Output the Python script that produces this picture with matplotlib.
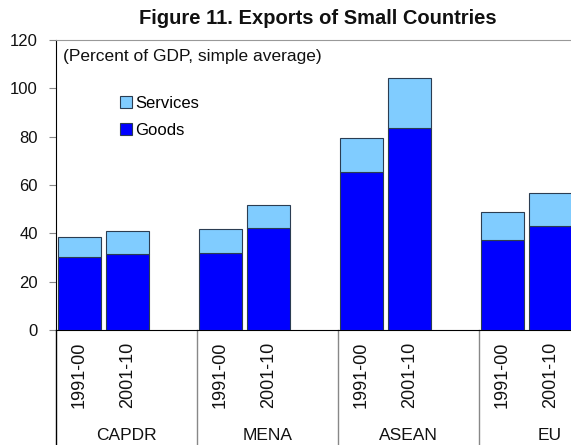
import matplotlib
matplotlib.use("Agg")
import matplotlib.pyplot as plt
from matplotlib.patches import Patch
from matplotlib.transforms import blended_transform_factory

plt.rcParams['font.family'] = ['Liberation Sans', 'DejaVu Sans']

regions = ["CAPDR", "MENA", "ASEAN", "EU"]
periods = ["1991-00", "2001-10"]
goods = [30.3, 31.4, 31.9, 42.2, 65.5, 83.6, 37.3, 43.0]
total = [38.4, 41.1, 41.9, 51.6, 79.6, 104.1, 48.8, 56.7]
services = [t - g for t, g in zip(total, goods)]

W, H = 571, 445
fig = plt.figure(figsize=(W / 100, H / 100), dpi=100)
left, right, top, bottom = 56, 620, 40, 330
ax = fig.add_axes([left / W, (H - bottom) / H, (right - left) / W, (bottom - top) / H])

xs = []
for gi in range(len(regions)):
    for pi in range(len(periods)):
        xs.append(gi * 3 + 0.5 + pi * 1.02)

edge = "#2b3d52"
ax.bar(xs, goods, width=0.93, color="#0000FF", edgecolor=edge, linewidth=0.8, zorder=3)
ax.bar(xs, services, bottom=goods, width=0.93, color="#80CCFF", edgecolor=edge,
       linewidth=0.8, zorder=3)

ax.set_xlim(0, 12)
ax.set_ylim(0, 120)
ax.set_yticks(range(0, 121, 20))
ax.tick_params(axis='y', length=5, color="#888888", labelsize=12, pad=8)
ax.set_xticks([])
for lab in ax.get_yticklabels():
    lab.set_color("#111111")

ax.spines['left'].set_color("black")
ax.spines['bottom'].set_color("black")
ax.spines['top'].set_color("#999999")
ax.spines['right'].set_visible(False)

# period labels beneath each bar
span = bottom - top
trans = blended_transform_factory(ax.transData, ax.transAxes)
for i, x in enumerate(xs):
    ax.text(x, -12 / span, periods[i % 2], rotation=90, ha='center', va='top',
            fontsize=13, transform=trans, color="#111111")

# region names and group separators
for gi, name in enumerate(regions):
    ax.text(gi * 3 + 1.5, -(435 - bottom) / span, name, ha='center', va='center',
            fontsize=12.5, transform=trans, color="#111111")
ax.plot([0, 0], [0, -(H - bottom) / span], color="black", lw=1.0,
        transform=trans, clip_on=False)
for gi in range(1, 4):
    ax.plot([gi * 3, gi * 3], [0, -(H - bottom) / span], color="#888888", lw=1.0,
            transform=trans, clip_on=False)

ax.text(63 / W, (H - 57) / H, "(Percent of GDP, simple average)", transform=fig.transFigure,
        ha='left', va='center', fontsize=12.5, color="#111111")

fig.text(318 / W, (H - 18) / H, "Figure 11. Exports of Small Countries",
         ha='center', va='center', fontsize=14.5, fontweight='bold', color="#111111")

handles = [Patch(facecolor="#80CCFF", edgecolor=edge, linewidth=0.8, label="Services"),
           Patch(facecolor="#0000FF", edgecolor=edge, linewidth=0.8, label="Goods")]
ax.legend(handles=handles, loc='upper left', bbox_to_anchor=(120 / W, (H - 96) / H),
          bbox_transform=fig.transFigure, frameon=False, fontsize=12, handlelength=0.7,
          handleheight=0.7, handletextpad=0.2, labelspacing=0.7, borderaxespad=0,
          borderpad=0)

fig.savefig("out.png", dpi=100)
